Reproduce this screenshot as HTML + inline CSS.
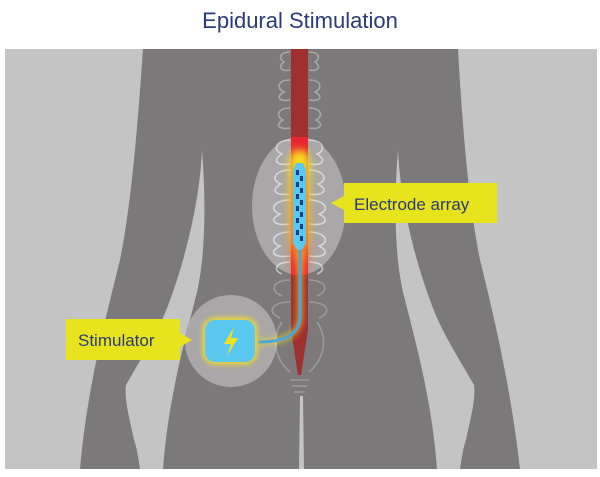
<!DOCTYPE html>
<html><head><meta charset="utf-8"><style>
html,body{margin:0;padding:0;background:#fff;width:600px;height:477px;overflow:hidden}
</style></head><body>
<svg width="600" height="477" viewBox="0 0 600 477" xmlns="http://www.w3.org/2000/svg">
<defs>
<filter id="glow" x="-50%" y="-50%" width="200%" height="200%"><feGaussianBlur stdDeviation="3"/></filter>
<filter id="glow2" x="-100%" y="-50%" width="300%" height="200%"><feGaussianBlur stdDeviation="4"/></filter>
<linearGradient id="heat" x1="0" y1="0" x2="0" y2="1">
<stop offset="0" stop-color="#f5e020"/><stop offset="0.7" stop-color="#f5a020"/><stop offset="1" stop-color="#e83030" stop-opacity="0"/></linearGradient>
</defs>
<text x="300" y="28" text-anchor="middle" font-family="Liberation Sans, sans-serif" font-size="22" fill="#2b3a7a">Epidural Stimulation</text>
<rect x="5" y="49" width="592" height="420" fill="#c3c4c3"/>
<!-- body silhouette -->
<path d="M143,49 L458,49 C462,120 468,200 480,260 C500,340 512,400 520,469 L80,469 C86,400 100,340 120,260 C132,200 138,120 143,49 Z" fill="#7b797a"/>
<!-- left gap -->
<path d="M202,150 C206,200 206,260 195,300 C185,340 168,400 163,469 L140,469 C138,455 136,445 134,440 C130,420 124,400 126,385 C140,360 160,330 170,300 C185,260 200,200 202,150 Z" fill="#c3c4c3"/>
<!-- right gap -->
<path d="M398,150 C394,200 394,260 405,300 C415,340 432,400 437,469 L460,469 C462,455 464,445 466,440 C470,420 476,400 474,385 C460,360 440,330 430,300 C415,260 400,200 398,150 Z" fill="#c3c4c3"/>
<!-- leg gap -->
<path d="M300,396 L303,396 L304,469 L299,469 Z" fill="#c3c4c3"/>
<!-- ellipses -->
<ellipse cx="299" cy="206" rx="47" ry="69" fill="#a9a7a8"/>
<ellipse cx="231" cy="341" rx="46" ry="46" fill="#a9a7a8"/>
<!-- spine -->
<path d="M291,49 L308,49 L308,330 L301,375 L298,375 L291,330 Z" fill="#9e3030"/>
<rect x="291" y="137" width="17" height="138" fill="#e8262e"/>
<!-- vertebrae outlines -->
<g fill="none" stroke="#ffffff" stroke-opacity="0.35" stroke-width="1.6">
<path d="M290,52 C280,52 278,58 284,62 C278,66 280,72 290,70 M309,52 C319,52 321,58 315,62 C321,66 319,72 309,70"/>
<path d="M290,80 C278,80 276,88 284,92 C276,96 278,102 290,100 M309,80 C321,80 323,88 315,92 C323,96 321,102 309,100"/>
<path d="M290,108 C278,108 275,116 283,120 C275,124 278,130 290,128 M309,108 C321,108 324,116 316,120 C324,124 321,130 309,128"/>
</g>
<g fill="none" stroke="#ffffff" stroke-opacity="0.55" stroke-width="1.6">
<path d="M290,140 C276,140 272,150 282,154 C272,160 276,166 290,164 M309,140 C323,140 327,150 317,154 C327,160 323,166 309,164"/>
<path d="M290,170 C275,170 270,180 281,184 C270,190 275,196 290,194 M309,170 C324,170 329,180 318,184 C329,190 324,196 309,194"/>
<path d="M290,200 C274,200 268,210 280,214 C268,220 274,226 290,224 M309,200 C325,200 331,210 319,214 C331,220 325,226 309,224"/>
<path d="M290,232 C274,232 268,242 280,246 C268,252 274,258 290,256 M309,232 C325,232 331,242 319,246 C331,252 325,258 309,256"/>
<path d="M290,262 C276,262 272,270 282,274 M309,262 C323,262 327,270 317,274"/>
</g>
<g fill="none" stroke="#ffffff" stroke-opacity="0.25" stroke-width="1.6">
<path d="M290,280 C274,280 268,290 282,296 M309,280 C325,280 331,290 317,296"/>
<path d="M290,302 C272,302 266,312 280,318 M309,302 C327,302 333,312 319,318"/>
<path d="M282,322 C270,340 276,360 290,372 M317,322 C329,340 323,360 309,372"/>
<path d="M290,380 L309,380 M292,386 L307,386 M294,392 L305,392"/>
</g>
<!-- heat glow -->
<rect x="289" y="150" width="21" height="130" rx="10" fill="url(#heat)" filter="url(#glow2)"/>
<path d="M300,250 L300,315 C300,335 285,342 258,342" fill="none" stroke="#f5e020" stroke-width="6" stroke-opacity="0.6" filter="url(#glow)"/>
<!-- wire -->
<path d="M300,245 L300,315 C300,335 285,342 258,342" fill="none" stroke="#4aa8d8" stroke-width="3"/>
<!-- electrode -->
<path d="M296,163 L303,163 L306,170 L306,243 L302,250 L297,250 L293,243 L293,170 Z" fill="#5bc8ef"/>
<g fill="#1e3c8a">
<rect x="296" y="170" width="3" height="5"/><rect x="300" y="176" width="3" height="5"/>
<rect x="296" y="182" width="3" height="5"/><rect x="300" y="188" width="3" height="5"/>
<rect x="296" y="194" width="3" height="5"/><rect x="300" y="200" width="3" height="5"/>
<rect x="296" y="206" width="3" height="5"/><rect x="300" y="212" width="3" height="5"/>
<rect x="296" y="218" width="3" height="5"/><rect x="300" y="224" width="3" height="5"/>
<rect x="296" y="230" width="3" height="5"/><rect x="300" y="236" width="3" height="5"/>
</g>
<!-- stimulator -->
<rect x="203" y="318" width="54" height="46" rx="12" fill="#f5e020" filter="url(#glow)"/>
<rect x="205" y="320" width="50" height="42" rx="10" fill="#5bc8ef"/>
<path d="M234,327 L224,344 L231,344 L227,356 L238,338 L231,338 Z" fill="#f5e020"/>
<!-- labels -->
<path d="M344,183 L497,183 L497,223 L344,223 L344,210 L331,203 L344,196 Z" fill="#e7e31c"/>
<text x="354" y="210" font-family="Liberation Sans, sans-serif" font-size="17" fill="#2b3a7a">Electrode array</text>
<path d="M66,319 L180,319 L180,333 L192,340 L180,347 L180,360 L66,360 Z" fill="#e7e31c"/>
<text x="78" y="346" font-family="Liberation Sans, sans-serif" font-size="17" fill="#2b3a7a">Stimulator</text>
</svg>
</body></html>
